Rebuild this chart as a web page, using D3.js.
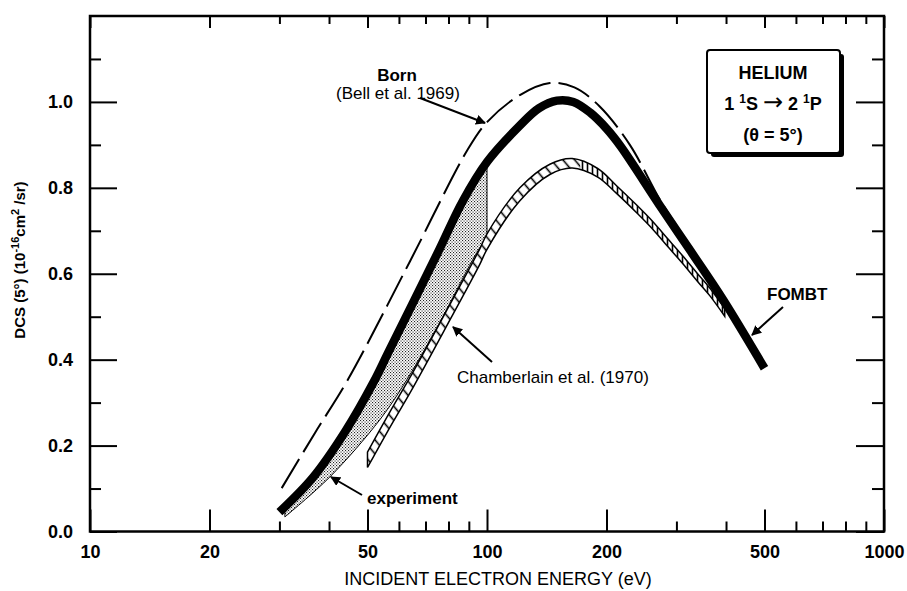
<!DOCTYPE html>
<html><head><meta charset="utf-8">
<script src="https://cdn.jsdelivr.net/npm/d3@7"></script>
<style>
html,body{margin:0;padding:0;background:#fff;}
svg{display:block;font-family:"Liberation Sans",Arial,Helvetica,sans-serif;}
</style></head>
<body>
<svg id="chart" width="907" height="591"></svg>
<script>
// ---------- data ----------
const xMajorTicks = [10, 20, 50, 100, 200, 500, 1000];
const xMinorTicks = [30, 40, 60, 70, 80, 90, 300, 400, 600, 700, 800, 900];
const yMajorTicks = [0, 0.2, 0.4, 0.6, 0.8, 1.0];
const yMinorTicks = [0.1, 0.3, 0.5, 0.7, 0.9, 1.1];

// FOMBT (thick black curve)
const fombtE = [30, 36.4, 43.9, 51.9, 56.3, 74.8, 87, 100, 121, 135, 150, 165, 182, 200, 217, 272, 324, 393, 500];
const fombtV = [0.045, 0.125, 0.232, 0.349, 0.415, 0.645, 0.77, 0.86, 0.945, 0.985, 1.003, 1.0, 0.975, 0.938, 0.897, 0.76, 0.656, 0.54, 0.38];

// Born (Bell et al. 1969) dashed curve
const bornE = [30.4, 36.9, 44.6, 63.9, 89.5, 100, 121, 144, 166, 192, 229, 272, 300];
const bornV = [0.101, 0.23, 0.353, 0.628, 0.89, 0.953, 1.016, 1.044, 1.034, 0.99, 0.90, 0.774, 0.712];

// experiment (stippled band)
const expE  = [30.97, 40.2, 53.7, 62.8, 77.4, 92.1, 100];
const expLo = [0.034, 0.127, 0.26, 0.353, 0.50, 0.633, 0.687];
const expHi = [0.05, 0.18, 0.375, 0.50, 0.675, 0.81, 0.86];

// Chamberlain et al. (1970) hatched band
const chamE  = [50, 56.9, 65.1, 80.6, 95.9, 100, 121, 144, 164, 190, 212, 240, 257, 290, 311, 340, 364, 397];
const chamHi = [0.185, 0.278, 0.371, 0.528, 0.658, 0.693, 0.80, 0.855, 0.868, 0.845, 0.805, 0.757, 0.729, 0.674, 0.642, 0.599, 0.567, 0.519];
const chamLo = [0.149, 0.242, 0.335, 0.492, 0.622, 0.657, 0.77, 0.831, 0.846, 0.825, 0.787, 0.739, 0.711, 0.656, 0.624, 0.581, 0.549, 0.501];

// ---------- chart ----------
const svg = d3.select("#chart");
const x = d3.scaleLog().domain([10, 1000]).range([90, 884]);
const y = d3.scaleLinear().domain([0, 1.2]).range([531.5, 16]);
const FONT = '"Liberation Sans",Arial,Helvetica,sans-serif';

const defs = svg.append("defs");
const st = defs.append("pattern").attr("id","stipple").attr("patternUnits","userSpaceOnUse")
  .attr("width",3).attr("height",3);
st.append("rect").attr("width",3).attr("height",3).attr("fill","#fff");
st.append("rect").attr("x",0).attr("y",0).attr("width",1.1).attr("height",1.1).attr("fill","#222");
st.append("rect").attr("x",1.5).attr("y",1.5).attr("width",1.1).attr("height",1.1).attr("fill","#222");
const hv = defs.append("pattern").attr("id","hatchV").attr("patternUnits","userSpaceOnUse")
  .attr("width",5).attr("height",10);
hv.append("rect").attr("width",5).attr("height",10).attr("fill","#fff");
hv.append("line").attr("x1",2.5).attr("x2",2.5).attr("y1",0).attr("y2",10).attr("stroke","#000").attr("stroke-width",1.6);
const hd = defs.append("pattern").attr("id","hatchD").attr("patternUnits","userSpaceOnUse")
  .attr("width",9).attr("height",9).attr("patternTransform","rotate(-40)");
hd.append("rect").attr("width",9).attr("height",9).attr("fill","#fff");
hd.append("line").attr("x1",4.5).attr("x2",4.5).attr("y1",0).attr("y2",9).attr("stroke","#000").attr("stroke-width",1.6);
defs.append("clipPath").attr("id","clipRise").append("rect")
  .attr("x",0).attr("y",0).attr("width",x(172)).attr("height",591);
defs.append("clipPath").attr("id","clipFall").append("rect")
  .attr("x",x(172)).attr("y",0).attr("width",907-x(172)).attr("height",591);
const mk = defs.append("marker").attr("id","arrow").attr("viewBox","0 0 10 10")
  .attr("refX",9).attr("refY",5).attr("markerWidth",5).attr("markerHeight",5)
  .attr("markerUnits","strokeWidth").attr("orient","auto");
mk.append("path").attr("d","M0,0 L10,5 L0,10 Z").attr("fill","#000");

const curve = d3.curveCatmullRom.alpha(0.5);

// experiment stippled band
const expData = expE.map((e,i)=>({e, lo:expLo[i], hi:expHi[i]}));
svg.append("path").datum(expData)
  .attr("d", d3.area().x(d=>x(d.e)).y0(d=>y(d.lo)).y1(d=>y(d.hi)).curve(curve))
  .attr("fill","url(#stipple)").attr("stroke","#000").attr("stroke-width",1);

// Born dashed
const bornData = bornE.map((e,i)=>({e, v:bornV[i]}));
svg.append("path").datum(bornData)
  .attr("d", d3.line().x(d=>x(d.e)).y(d=>y(d.v)).curve(curve))
  .attr("fill","none").attr("stroke","#000").attr("stroke-width",2)
  .attr("stroke-dasharray","34,8");

// Chamberlain hatched band
const chamData = chamE.map((e,i)=>({e, lo:chamLo[i], hi:chamHi[i]}));
const chamArea = d3.area().x(d=>x(d.e)).y0(d=>y(d.lo)).y1(d=>y(d.hi)).curve(curve);
svg.append("path").datum(chamData).attr("d", chamArea)
  .attr("fill","url(#hatchD)").attr("clip-path","url(#clipRise)");
svg.append("path").datum(chamData).attr("d", chamArea)
  .attr("fill","url(#hatchV)").attr("clip-path","url(#clipFall)");
svg.append("path").datum(chamData).attr("d", chamArea)
  .attr("fill","none").attr("stroke","#000").attr("stroke-width",1.5);

// FOMBT thick
const fombtData = fombtE.map((e,i)=>({e, v:fombtV[i]}));
svg.append("path").datum(fombtData)
  .attr("d", d3.line().x(d=>x(d.e)).y(d=>y(d.v)).curve(curve))
  .attr("fill","none").attr("stroke","#000").attr("stroke-width",8.5)
  .attr("stroke-linejoin","round");

// ---------- axes ----------
function styleAxis(g){ g.select(".domain").remove(); g.selectAll("line").attr("stroke","#000").attr("stroke-width",2); }
svg.append("g").attr("transform","translate(90,0)")
  .call(d3.axisLeft(y).tickValues(yMajorTicks).tickSize(-27).tickPadding(17).tickFormat(d3.format(".1f")))
  .call(styleAxis)
  .call(g=>g.selectAll("text").attr("font-family",FONT).attr("font-size",18).attr("font-weight","bold").attr("fill","#000"));
svg.append("g").attr("transform","translate(90,0)")
  .call(d3.axisLeft(y).tickValues(yMinorTicks).tickSize(-11).tickFormat(""))
  .call(styleAxis);
svg.append("g").attr("transform","translate(884,0)")
  .call(d3.axisRight(y).tickValues(yMajorTicks).tickSize(-28).tickFormat(""))
  .call(styleAxis);
svg.append("g").attr("transform","translate(884,0)")
  .call(d3.axisRight(y).tickValues(yMinorTicks).tickSize(-12).tickFormat(""))
  .call(styleAxis);
svg.append("g").attr("transform","translate(0,531.5)")
  .call(d3.axisBottom(x).tickValues(xMajorTicks).tickSize(-22).tickPadding(14).tickFormat(d3.format("d")))
  .call(styleAxis)
  .call(g=>g.selectAll("text").attr("font-family",FONT).attr("font-size",18).attr("font-weight","bold").attr("fill","#000"));
svg.append("g").attr("transform","translate(0,531.5)")
  .call(d3.axisBottom(x).tickValues(xMinorTicks).tickSize(-10).tickFormat(""))
  .call(styleAxis);
svg.append("g").attr("transform","translate(0,16)")
  .call(d3.axisTop(x).tickValues(xMajorTicks).tickSize(-12).tickFormat(""))
  .call(styleAxis);
svg.append("g").attr("transform","translate(0,16)")
  .call(d3.axisTop(x).tickValues(xMinorTicks).tickSize(-8).tickFormat(""))
  .call(styleAxis);
svg.append("rect").attr("x",90).attr("y",16).attr("width",884-90).attr("height",531.5-16)
  .attr("fill","none").attr("stroke","#000").attr("stroke-width",2.5);

// axis titles
svg.append("text").attr("x",498).attr("y",585).attr("text-anchor","middle")
  .attr("font-size",18).attr("fill","#000").text("INCIDENT ELECTRON ENERGY (eV)");
const yl = svg.append("text").attr("transform","translate(25,260) rotate(-90)")
  .attr("text-anchor","middle").attr("font-size",15).attr("font-weight","bold").attr("fill","#000");
yl.append("tspan").text("DCS (5°)  (10");
yl.append("tspan").attr("dy",-6).attr("font-size",11).text("-16");
yl.append("tspan").attr("dy",6).text("cm");
yl.append("tspan").attr("dy",-6).attr("font-size",11).text("2");
yl.append("tspan").attr("dy",6).text(" /sr)");

// ---------- annotations ----------
function arrow(x1,y1,x2,y2){
  svg.append("line").attr("x1",x1).attr("y1",y1).attr("x2",x2).attr("y2",y2)
    .attr("stroke","#000").attr("stroke-width",2).attr("marker-end","url(#arrow)");
}
svg.append("text").attr("x",397).attr("y",81).attr("text-anchor","middle")
  .attr("font-size",17).attr("font-weight","bold").text("Born");
svg.append("text").attr("x",398).attr("y",99).attr("text-anchor","middle")
  .attr("font-size",17).text("(Bell et al. 1969)");
arrow(420,98,485,123);

svg.append("text").attr("x",457).attr("y",383).attr("font-size",17).text("Chamberlain et al. (1970)");
arrow(492,362,453,327);

svg.append("text").attr("x",367).attr("y",504).attr("font-size",17).attr("font-weight","bold").text("experiment");
arrow(362,495,331,477);

svg.append("text").attr("x",767).attr("y",300).attr("font-size",17).attr("font-weight","bold").text("FOMBT");
arrow(783,307,752,335);

// info box
svg.append("rect").attr("x",711).attr("y",54).attr("width",133).attr("height",103).attr("rx",3).attr("fill","#000");
svg.append("rect").attr("x",707).attr("y",50).attr("width",133).attr("height",103).attr("rx",3)
  .attr("fill","#fff").attr("stroke","#000").attr("stroke-width",2);
svg.append("text").attr("x",773).attr("y",79).attr("text-anchor","middle")
  .attr("font-size",18).attr("font-weight","bold").text("HELIUM");
const l2 = svg.append("text").attr("x",773).attr("y",110).attr("text-anchor","middle")
  .attr("font-size",18).attr("font-weight","bold");
l2.append("tspan").text("1 ");
l2.append("tspan").attr("dy",-7).attr("font-size",12).text("1");
l2.append("tspan").attr("dy",7).text("S ");
l2.append("tspan").attr("font-family","DejaVu Sans").attr("font-weight","normal").attr("font-size",24).text("\u2192");
l2.append("tspan").text(" 2 ");
l2.append("tspan").attr("dy",-7).attr("font-size",12).text("1");
l2.append("tspan").attr("dy",7).text("P");
svg.append("text").attr("x",773).attr("y",141).attr("text-anchor","middle")
  .attr("font-size",18).attr("font-weight","bold").text("(\u03b8 = 5°)");
</script>
</body></html>
